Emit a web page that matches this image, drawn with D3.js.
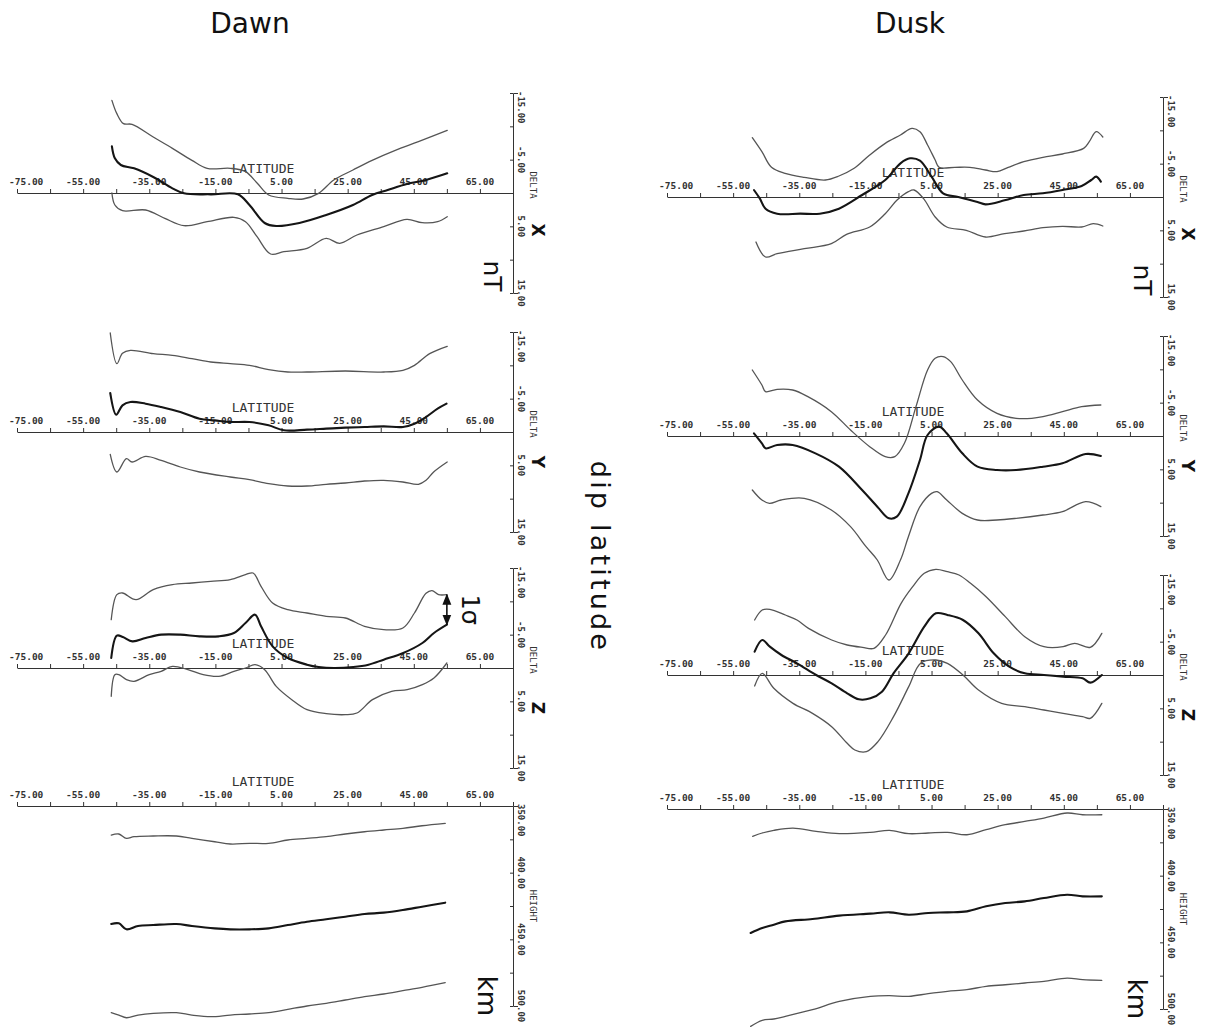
<!DOCTYPE html>
<html><head><meta charset="utf-8">
<script src="https://cdn.jsdelivr.net/npm/d3@7"></script>
<style>body{margin:0;background:#fff}svg{display:block}</style>
</head><body>
<svg id="chart" width="1205" height="1035"></svg>
<script>
// ---------- data ----------
const columnTitles = ["Dawn", "Dusk"];
const latTickLabels = ["-75.00","-55.00","-35.00","-15.00","5.00","25.00","45.00","65.00"];
const latTickValues = [-75,-55,-35,-15,5,25,45,65];
const deltaTickValues = [-15,-5,5,15];
const deltaTickLabels = ["-15.00","-5.00","5.00","15.00"];
const heightTickValues = [350,400,450,500];
const heightTickLabels = ["350.00","400.00","450.00","500.00"];
const componentNames = ["X","Y","Z","HEIGHT"];

// Dawn, DELTA X (nT): [dip latitude, value]
const dawnXupper = [[-46.3,-13.9],[-44.8,-11.9],[-42.8,-10.4],[-40.2,-10.3],[-33.8,-8.4],[-28,-6.7],[-22.1,-4.9],[-17.5,-3.7],[-10.5,-3.7],[-5.9,-3.2],[-2.4,-1.5],[1.1,0.3],[6.9,0.8],[11.5,0.9],[16.2,0.05],[20.8,-1.95],[26.6,-3.45],[32.4,-4.9],[39.4,-6.4],[46.4,-7.7],[55.1,-9.4]];
const dawnXmean = [[-46.3,-7.0],[-45.4,-5.2],[-43.6,-4.2],[-39.6,-3.7],[-33.8,-2.4],[-28,-0.7],[-24.5,0.05],[-16.4,0.2],[-8.2,0.2],[-4.7,1.8],[-0.1,4.5],[3.4,4.95],[10.4,4.5],[18.5,3.3],[26.6,1.8],[32.4,0.3],[37.1,-0.45],[42.9,-1.35],[48.7,-1.95],[55.1,-2.95]];
const dawnXlower = [[-46.3,0],[-45.4,1.8],[-43.1,2.65],[-36.1,2.55],[-30.3,3.8],[-24.5,4.9],[-17.5,4.3],[-9.4,3.65],[-5.9,4.3],[-2.4,6.55],[1.7,9.15],[5.7,8.8],[12.7,8.3],[18.5,6.8],[22.6,7.55],[27.8,6.3],[35.9,5.05],[42.9,3.95],[47.5,4.45],[52.2,4.3],[55.1,3.55]];

// Dusk, DELTA X
const duskXupper = [[-49.2,-8.9],[-46.3,-6.8],[-43.4,-4.45],[-39.3,-3.55],[-33.5,-2.95],[-27.1,-2.55],[-23,-3.15],[-18.4,-4.3],[-13.7,-6.3],[-9,-8.05],[-4.4,-9.3],[-0.9,-10.3],[1.5,-9.8],[3.8,-7.8],[6.1,-5.55],[7.3,-4.45],[12,-4.45],[16.6,-4.45],[21.3,-4.05],[24.8,-3.8],[28.2,-4.45],[32.9,-5.3],[38.7,-5.95],[44.6,-6.45],[51,-7.3],[52.7,-8.3],[54.8,-9.8],[56.8,-9.0]];
const duskXmean = [[-48.7,-1.05],[-46.9,0.25],[-45.2,1.75],[-41.7,2.5],[-34.7,2.5],[-28.8,2.5],[-23,1.75],[-16,-0.3],[-9,-2.55],[-4.4,-5.05],[-1.5,-5.8],[1.5,-5.45],[5,-3.05],[8.5,-0.55],[13.1,0],[18.9,0.75],[21.3,1.1],[27.1,0.5],[32.9,-0.3],[38.7,-0.55],[44.6,-1.05],[50.4,-1.65],[53.3,-2.55],[54.8,-3.05],[56.2,-2.3]];
const duskXlower = [[-48.1,6.75],[-45.2,9.0],[-41.7,8.5],[-33.5,7.75],[-25.3,7.0],[-20.7,5.6],[-13.7,4.5],[-9,2.5],[-5.5,0.5],[-2,-0.8],[-0.3,-1.05],[2.6,0.25],[6.1,3.0],[9.6,4.5],[15.5,5.0],[21.3,6.0],[27.1,5.5],[32.9,5.1],[38.7,4.6],[44.6,4.4],[50.4,4.5],[53.9,4.0],[56.8,4.35]];

// Dawn, DELTA Y
const dawnYupper = [[-46.8,-14.85],[-44.8,-10.25],[-43.1,-11.8],[-40.7,-12.25],[-33.8,-11.75],[-28,-11.5],[-22.1,-11.0],[-16.4,-10.5],[-10.5,-10.25],[-4.7,-10.0],[1.1,-9.35],[6.9,-9.0],[12.7,-9.0],[24.3,-9.15],[35.9,-9.0],[41.7,-9.25],[45.2,-10.0],[49.8,-11.75],[55.1,-12.85]];
const dawnYmean = [[-46.8,-5.85],[-45,-2.6],[-43.1,-4.0],[-40.7,-4.5],[-36.1,-4.25],[-31.4,-3.75],[-25.6,-3.0],[-19.8,-2.0],[-15.2,-1.75],[-10.5,-1.5],[-4.7,-1.5],[1.1,-1.0],[5.7,-0.25],[12.7,-0.35],[18.5,-0.5],[24.3,-0.65],[30.1,-0.75],[35.9,-0.85],[41.7,-0.75],[45.2,-1.25],[48.7,-2.25],[52.2,-3.5],[54.9,-4.25]];
const dawnYlower = [[-46.8,3.35],[-44.8,6.0],[-41.9,4.0],[-40.2,4.5],[-36.1,3.65],[-31.4,4.25],[-25.6,5.25],[-19.8,6.0],[-10.5,6.75],[-4.7,7.15],[1.1,7.75],[6.9,8.1],[12.7,8.1],[18.5,7.85],[24.3,7.65],[30.1,7.35],[35.9,7.25],[41.7,7.5],[46.4,7.85],[48.7,7.25],[51.0,6.0],[55.1,4.5]];

// Dusk, DELTA Y
const duskYupper = [[-49.2,-9.9],[-46.3,-7.65],[-45.2,-6.65],[-41.7,-7.0],[-37,-6.9],[-32.4,-5.9],[-25.3,-3.65],[-19.5,-0.9],[-13.7,1.6],[-9,3.1],[-6.1,3.1],[-3.2,1.1],[0.3,-4.4],[3.8,-9.9],[6.1,-11.65],[8.5,-11.9],[10.8,-11.15],[14.3,-8.4],[18.9,-5.4],[24.8,-3.4],[30.6,-2.65],[35.3,-2.65],[38.7,-2.9],[44.6,-3.65],[50.4,-4.4],[56.2,-4.65]];
const duskYmean = [[-48.7,-0.4],[-46.3,1.1],[-45.2,1.85],[-41.7,1.35],[-37,1.35],[-30.1,2.6],[-23,4.6],[-16,8.1],[-11.4,10.6],[-7.9,12.35],[-5.5,12.1],[-2,8.6],[1.5,3.6],[3.8,-0.15],[7.3,-1.4],[9.6,-0.4],[14.3,2.6],[18.9,4.6],[24.8,5.1],[30.6,5.1],[38.7,4.6],[44.6,4.1],[51.6,2.7],[56.2,3.0]];
const duskYlower = [[-49.2,8.1],[-46.3,9.6],[-44,10.1],[-40.5,9.6],[-33.5,9.35],[-25.3,11.1],[-19.5,13.6],[-14.8,16.6],[-11.4,18.6],[-7.9,21.6],[-4.4,18.6],[-2,15.1],[1.5,10.6],[5,8.6],[6.7,8.35],[9.6,9.6],[14.3,11.6],[18.9,12.6],[24.8,12.6],[30.6,12.35],[38.7,11.85],[44.6,11.35],[51.6,9.85],[56.2,10.6]];

// Dawn, DELTA Z
const dawnZupper = [[-46.5,-7.25],[-44.8,-11.0],[-43.1,-11.25],[-39,-10.25],[-33.8,-11.75],[-28,-12.5],[-22.1,-12.75],[-16.4,-13.0],[-10.5,-13.25],[-5.9,-14.0],[-3.6,-14.25],[-1.2,-12.25],[2.3,-9.75],[6.9,-8.75],[12.7,-8.25],[18.5,-7.75],[24.3,-7.5],[30.1,-6.25],[35.9,-5.75],[41.7,-6.0],[45.2,-8.25],[48.7,-11.2],[50.5,-11.6],[52.5,-11.0],[55,-11.0]];
const dawnZmean = [[-46.5,-1.5],[-44.8,-4.85],[-43,-4.65],[-40.1,-4],[-36.1,-4.5],[-31.4,-5],[-25.6,-5],[-19.8,-4.75],[-14,-4.75],[-9.4,-5.25],[-5.9,-6.75],[-3,-8],[-1.2,-6.25],[2.3,-3.25],[6.9,-1.5],[12.7,-0.5],[16.2,-0.15],[20.9,0],[26.7,-0.15],[31.3,-0.5],[35.9,-1.25],[41.8,-2.25],[47.6,-3.75],[51.1,-5.25],[55,-6.5]];
const dawnZlower = [[-46.5,4.25],[-45.4,1.0],[-44.2,1.0],[-41.9,1.75],[-39.6,2.0],[-35,1.0],[-31.4,0.5],[-28,-0.25],[-23.3,0.25],[-18.7,1.0],[-14,1.25],[-9.4,0.5],[-5.9,0],[-3,-0.5],[-0.1,0.25],[3.4,2.75],[8.1,4.75],[12.7,6.25],[18.5,6.85],[24.3,7.0],[27.8,6.75],[32.5,4.75],[38.3,3.5],[43,3.25],[47.6,2.5],[51.1,1.5],[55,-0.75]];

// Dusk, DELTA Z
const duskZupper = [[-48.5,-8.25],[-46.2,-9.75],[-43.9,-9.85],[-39.2,-9],[-35.7,-8.25],[-32.2,-7],[-25.2,-5.25],[-20.5,-4.5],[-15.9,-4.15],[-12.4,-4],[-8.9,-6],[-4.2,-10.75],[-0.7,-13.25],[2.8,-15.25],[6.3,-15.85],[9.8,-15.5],[13.3,-15],[16.8,-13.75],[21.5,-11.75],[27.3,-8.75],[33.2,-5.75],[39,-4.25],[44.8,-4.25],[48.3,-4.75],[53,-4.15],[56.5,-6.25]];
const duskZmean = [[-48.5,-3.5],[-46.2,-5.25],[-43.9,-4.25],[-40.4,-3],[-35.7,-1.75],[-29.9,0],[-25.2,1.25],[-20.5,2.75],[-17,3.65],[-13.5,3.5],[-10,2.5],[-6.5,-0.25],[-1.9,-3.25],[2.8,-7.25],[6.3,-9.25],[9.8,-9],[14.5,-8.25],[19.2,-6.25],[23.8,-3.25],[28.5,-1.25],[33.2,-0.25],[39,0],[44.8,0.25],[50.7,0.5],[53,1.15],[56.5,0]];
const duskZlower = [[-48.5,1.65],[-46.2,-0.25],[-42.7,2],[-36.9,4.25],[-31,5.75],[-25.2,7.75],[-20.5,10.25],[-18.2,11.25],[-14.7,11.5],[-11.2,10],[-6.5,6.25],[-1.9,1.75],[1.7,-1.75],[6.3,-2.25],[9.8,-1.75],[14.5,0],[19.2,2.25],[26.2,4.25],[33.2,4.75],[39,5.25],[44.8,5.75],[50.7,6.25],[53,6.5],[56.5,4.25]];

// Dawn, HEIGHT (km)
const dawnHupper = [[-46.5,371.8],[-44.2,371],[-41.9,374.3],[-39.6,373],[-33.8,372.5],[-26.8,372.5],[-22.1,374.3],[-15.2,376.8],[-10.5,378.5],[-4.7,378],[1.1,378],[6.9,375.5],[12.7,374.3],[18.5,373],[24.3,371],[30.1,369.3],[35.9,368],[41.7,366.8],[47.5,364.8],[54.5,363]];
const dawnHmean = [[-46.5,438.5],[-44.2,438],[-41.9,442.5],[-38.4,440],[-33.8,439.3],[-26.8,438.5],[-22.1,440],[-15.2,441.8],[-10.5,442.5],[-4.7,442.5],[1.1,441.8],[6.9,439.3],[12.7,436.8],[18.5,435],[24.3,433],[30.1,431],[35.9,430],[41.7,428],[47.5,425.5],[54.5,422.5]];
const dawnHlower = [[-46.5,505],[-44.2,506.8],[-41.9,508.8],[-38.4,506.8],[-33.8,505.5],[-26.8,505],[-22.1,506.8],[-16.4,508],[-10.5,506.8],[-4.7,506],[1.1,505],[6.9,502.5],[12.7,500],[18.5,498],[24.3,495.5],[30.1,493],[35.9,491],[41.7,488.5],[47.5,486],[54.5,482.5]];

// Dusk, HEIGHT (km)
const duskHupper = [[-49.1,370.5],[-46.2,368],[-42.7,366],[-36.9,364.3],[-29.9,366.8],[-22.9,368.5],[-13.5,367.5],[-7.7,366],[-1.9,368.5],[4,368],[9.8,367.5],[15.7,369.3],[21.5,365.5],[27.3,361.8],[33.2,359.3],[39,356.8],[46,353],[50.7,354.3],[56.5,354.3]];
const duskHmean = [[-49.7,443],[-46.2,439.3],[-42.7,436.8],[-39.2,434.3],[-31,432.5],[-22.9,430],[-13.5,428.5],[-7.7,427.5],[-1.9,429.3],[4,428],[9.8,427.5],[15.7,426.8],[21.5,423],[27.3,420.5],[33.2,419.3],[39,416.8],[46,414.3],[50.7,415.5],[56.5,415.5]];
const duskHlower = [[-49.7,513],[-46.2,508.5],[-42.7,507.5],[-39.2,505.5],[-31,500.5],[-22.9,494.3],[-13.5,490.5],[-7.7,490],[-1.9,490.5],[4,488.5],[9.8,486.8],[15.7,485.5],[21.5,483],[27.3,481.8],[33.2,480.5],[39,479.3],[46,476.8],[50.7,478],[56.5,478.5]];

// ---------- layout ----------
const svg = d3.select("#chart");
const monoFont = "'DejaVu Sans Mono', 'Liberation Mono', monospace";
const sansFont = "'DejaVu Sans', Verdana, sans-serif";
const columns = [
  {x0: 17, x1: 513, zeros: [193, 432, 668, 806], titleX: 250,
   series: [[dawnXupper,dawnXmean,dawnXlower],[dawnYupper,dawnYmean,dawnYlower],[dawnZupper,dawnZmean,dawnZlower],[dawnHupper,dawnHmean,dawnHlower]]},
  {x0: 667, x1: 1163, zeros: [197, 436, 675, 809], titleX: 910,
   series: [[duskXupper,duskXmean,duskXlower],[duskYupper,duskYmean,duskYlower],[duskZupper,duskZmean,duskZlower],[duskHupper,duskHmean,duskHlower]]}
];
const letterOffset = {X: 37, Y: 30, Z: 40};

columns.forEach((col, ci) => {
  svg.append("text").attr("x", col.titleX).attr("y", 33)
    .attr("text-anchor", "middle").attr("font-family", sansFont)
    .attr("font-size", 28).attr("fill", "#111").text(columnTitles[ci]);

  const x = d3.scaleLinear().domain([-75, 75]).range([col.x0, col.x1]);

  componentNames.forEach((comp, ri) => {
    const zero = col.zeros[ri];
    const isH = comp === "HEIGHT";
    const y = isH
      ? d3.scaleLinear().domain([350, 500]).range([zero, zero + 200])
      : d3.scaleLinear().domain([-15, 15]).range([zero - 100, zero + 100]);
    const g = svg.append("g");

    // horizontal latitude axis
    const xAxis = d3.axisTop(x).tickValues(d3.range(-75, 76, 10))
      .tickSize(4).tickSizeOuter(0).tickPadding(4).tickFormat(() => "");
    const ax = g.append("g").attr("transform", `translate(0,${zero})`).call(xAxis);
    ax.selectAll("path,line").attr("stroke", "#333").attr("stroke-width", 1);
    latTickValues.forEach((v, i) => {
      g.append("text")
        .attr("x", i === 0 ? x(v) - 8 : x(v)).attr("y", zero - 8)
        .attr("text-anchor", i === 0 ? "start" : "middle")
        .attr("font-family", monoFont).attr("font-size", 9.5)
        .attr("font-weight", "bold").attr("fill", "#333").text(latTickLabels[i]);
    });
    g.append("text").attr("x", x(0) - 2).attr("y", zero - 20)
      .attr("text-anchor", "middle").attr("font-family", monoFont)
      .attr("font-size", 13).attr("fill", "#333").text("LATITUDE");

    // vertical axis
    const yAxis = d3.axisRight(y)
      .tickValues(isH ? d3.range(350, 501, 25) : d3.range(-15, 16, 5))
      .tickSizeInner(-3).tickSizeOuter(5).tickFormat(() => "");
    const ay = g.append("g").attr("transform", `translate(${col.x1},0)`).call(yAxis);
    ay.selectAll("path,line").attr("stroke", "#333").attr("stroke-width", 1);
    const tv = isH ? heightTickValues : deltaTickValues;
    const tl = isH ? heightTickLabels : deltaTickLabels;
    tv.forEach((v, i) => {
      g.append("text")
        .attr("transform", `translate(${col.x1 + 5},${i === 0 ? y(v) - 2 : y(v)}) rotate(90)`)
        .attr("text-anchor", i === 0 ? "start" : "middle")
        .attr("font-family", monoFont).attr("font-size", 9)
        .attr("font-weight", "bold").attr("fill", "#333").text(tl[i]);
    });
    if (isH) {
      g.append("text").attr("transform", `translate(${col.x1 + 17},${zero + 100}) rotate(90)`)
        .attr("text-anchor", "middle").attr("font-family", monoFont).attr("font-size", 9)
        .attr("fill", "#333").text("HEIGHT");
      g.append("text").attr("transform", `translate(${col.x1 - 35},${zero + 190}) rotate(90)`)
        .attr("text-anchor", "middle").attr("font-family", sansFont).attr("font-size", 26)
        .attr("fill", "#111").text("km");
    } else {
      g.append("text").attr("transform", `translate(${col.x1 + 17},${zero - 8}) rotate(90)`)
        .attr("text-anchor", "middle").attr("font-family", monoFont).attr("font-size", 9)
        .attr("fill", "#333").text("DELTA");
      g.append("text").attr("transform", `translate(${col.x1 + 19},${zero + letterOffset[comp]}) rotate(90)`)
        .attr("text-anchor", "middle").attr("font-family", sansFont).attr("font-size", 17)
        .attr("font-weight", "bold").attr("fill", "#111").text(comp);
      if (ri === 0) {
        g.append("text").attr("transform", `translate(${col.x1 - 29},${zero + 83}) rotate(90)`)
          .attr("text-anchor", "middle").attr("font-family", sansFont).attr("font-size", 25)
          .attr("fill", "#111").text("nT");
      }
    }

    // curves
    const line = d3.line().x(d => x(d[0])).y(d => y(d[1]))
      .curve(d3.curveCatmullRom.alpha(0.5));
    col.series[ri].forEach((s, si) => {
      g.append("path").datum(s).attr("d", line).attr("fill", "none")
        .attr("stroke", si === 1 ? "#151515" : "#555")
        .attr("stroke-width", si === 1 ? 2.1 : 1.3)
        .attr("stroke-linejoin", "round").attr("stroke-linecap", "round");
    });

    // 1-sigma marker on dawn Z
    if (ci === 0 && comp === "Z") {
      const up = dawnZupper[dawnZupper.length - 1], mn = dawnZmean[dawnZmean.length - 1];
      const defs = svg.append("defs");
      defs.append("marker").attr("id", "ah").attr("viewBox", "0 0 10 10")
        .attr("refX", 9).attr("refY", 5).attr("markerWidth", 7).attr("markerHeight", 7)
        .attr("orient", "auto-start-reverse")
        .append("path").attr("d", "M0,1L10,5L0,9Z").attr("fill", "#111");
      g.append("line").attr("x1", x(up[0])).attr("x2", x(up[0]))
        .attr("y1", y(up[1])).attr("y2", y(mn[1]))
        .attr("stroke", "#111").attr("stroke-width", 1.6)
        .attr("marker-start", "url(#ah)").attr("marker-end", "url(#ah)");
      g.append("text").attr("transform", `translate(${x(up[0]) + 15},${(y(up[1]) + y(mn[1])) / 2}) rotate(90)`)
        .attr("text-anchor", "middle").attr("font-family", sansFont).attr("font-size", 24)
        .attr("fill", "#111").text("1σ");
    }
  });
});

// central label
svg.append("text").attr("transform", "translate(591,557) rotate(90)")
  .attr("text-anchor", "middle").attr("font-family", sansFont).attr("font-size", 27)
  .attr("letter-spacing", 3.2).attr("fill", "#111").text("dip latitude");
</script>
</body></html>
